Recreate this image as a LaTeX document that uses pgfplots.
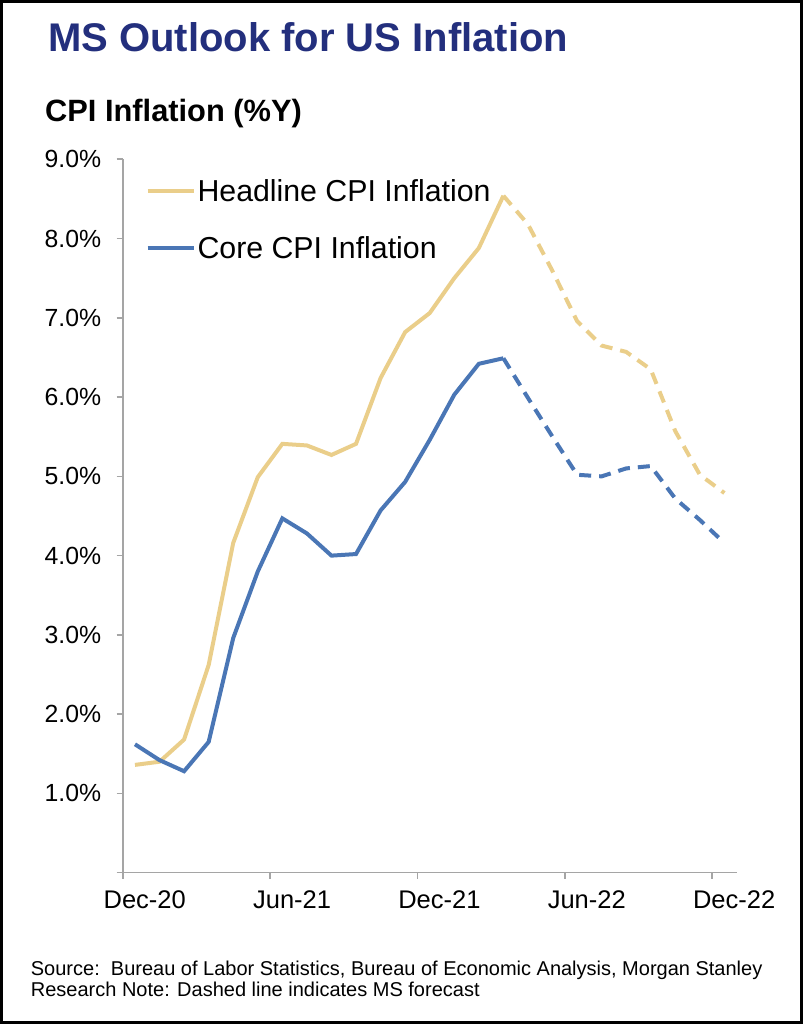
\documentclass[border=0pt]{standalone}
\usepackage{pgfplots}
\pgfplotsset{compat=1.18}
\usepackage{fontspec}
\setmainfont{Liberation Sans}

\definecolor{headline}{RGB}{234,206,138}
\definecolor{core}{RGB}{74,118,181}
\definecolor{navy}{RGB}{35,47,125}
\definecolor{axisgray}{RGB}{165,165,165}

% months from Dec-20 (0) to Dec-22 (24); forecast starts after Mar-22 (15)
\pgfplotstableread{
x  headline core
0  1.36 1.62
1  1.40 1.42
2  1.68 1.28
3  2.62 1.65
4  4.16 2.96
5  4.99 3.80
6  5.41 4.47
7  5.39 4.28
8  5.27 4.00
9  5.41 4.02
10 6.24 4.57
11 6.82 4.93
12 7.06 5.46
13 7.50 6.03
14 7.88 6.42
15 8.54 6.49
}\actual

\pgfplotstableread{
x  headline core
15 8.54 6.49
16 8.18 5.99
17 7.59 5.50
18 6.96 5.02
19 6.65 5.00
20 6.57 5.10
21 6.35 5.13
22 5.57 4.72
23 5.02 4.45
24 4.79 4.16
}\forecast

\begin{document}
\begin{tikzpicture}
\path[use as bounding box] (0,0) rectangle (803bp,1024bp);
\draw[black, line width=3bp] (1.5bp,1.5bp) rectangle (801.5bp,1022.5bp);

\node[anchor=base west, inner sep=0pt, text=navy,
      font=\fontsize{40bp}{48bp}\selectfont\bfseries] at (48bp,972bp) {MS Outlook for US Inflation};
\node[anchor=base west, inner sep=0pt,
      font=\fontsize{30.8bp}{37bp}\selectfont\bfseries] at (45bp,902.3bp) {CPI Inflation (\%Y)};

\begin{axis}[
    at={(122.7bp,151.3bp)}, anchor=south west,
    scale only axis,
    width=614bp, height=713.4bp,
    xmin=-0.5, xmax=24.5,
    ymin=0, ymax=9,
    axis lines*=left,
    axis line style={axisgray, line width=1.6bp},
    tick style={axisgray, line width=1.6bp},
    tick align=outside,
    major tick length=6bp,
    ytick={0,1,...,9},
    yticklabels={,1.0\%,2.0\%,3.0\%,4.0\%,5.0\%,6.0\%,7.0\%,8.0\%,9.0\%},
    xtick={-0.5,5.5,11.5,17.5,23.5},
    xticklabels={Dec-20,Jun-21,Dec-21,Jun-22,Dec-22},
    yticklabel style={font=\fontsize{24.8bp}{29bp}\selectfont, text=black, xshift=-12bp},
    xticklabel style={font=\fontsize{25.5bp}{30bp}\selectfont, text=black, xshift=22bp, yshift=-8bp},
    legend cell align=left,
    legend style={draw=none, fill=none, at={(0.032,0.978)}, anchor=north west,
                  font=\fontsize{30.3bp}{36bp}\selectfont, row sep=30bp},
    legend image code/.code={\draw[#1, line width=4bp] (0bp,0bp) -- (46bp,0bp);},
]
\addplot[headline, line width=4bp] table[x=x, y=headline] {\actual};
\addlegendentry{Headline CPI Inflation}
\addplot[core, line width=4bp] table[x=x, y=core] {\actual};
\addlegendentry{Core CPI Inflation}
\addplot[headline, line width=4bp, dash pattern=on 12bp off 8bp, forget plot] table[x=x, y=headline] {\forecast};
\addplot[core, line width=4bp, dash pattern=on 12bp off 8bp, forget plot] table[x=x, y=core] {\forecast};
\end{axis}

\node[anchor=base west, inner sep=0pt,
      font=\fontsize{20bp}{21bp}\selectfont] at (30.7bp,48bp)
      {Source:\ \ Bureau of Labor Statistics, Bureau of Economic Analysis, Morgan Stanley};
\node[anchor=base west, inner sep=0pt,
      font=\fontsize{20bp}{21bp}\selectfont] at (30.7bp,27.3bp)
      {Research Note: Dashed line indicates MS forecast};
\end{tikzpicture}
\end{document}
